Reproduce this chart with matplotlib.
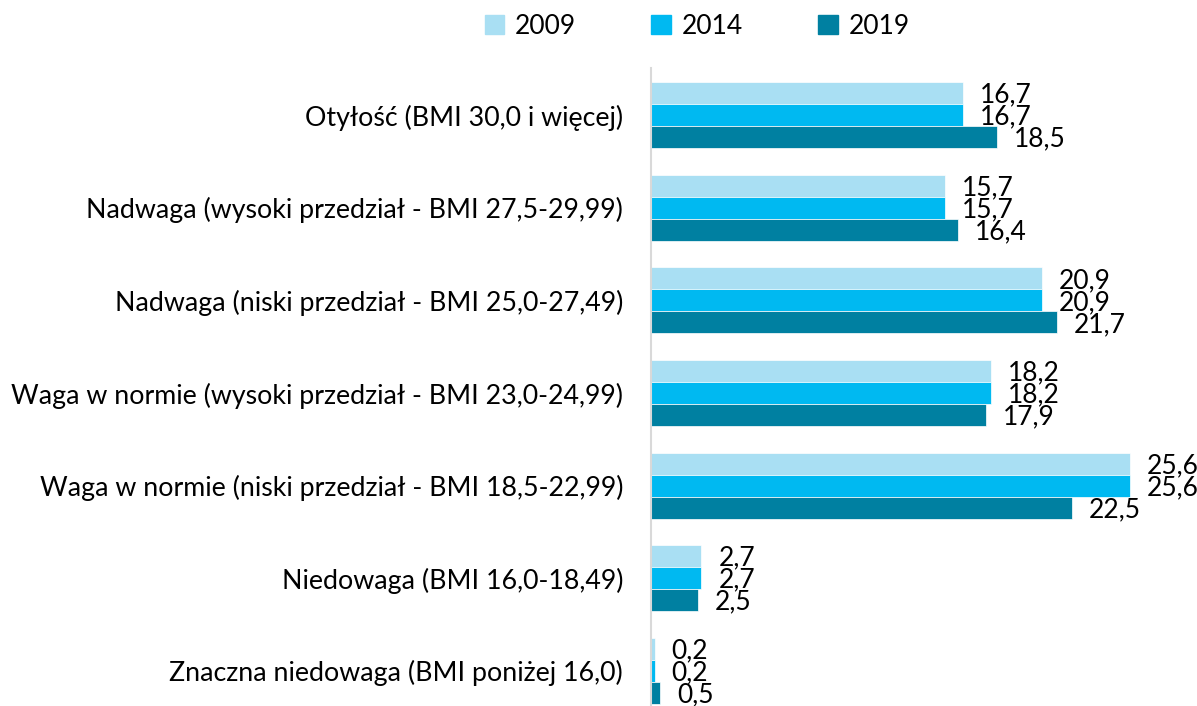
import matplotlib
matplotlib.use("Agg")
import matplotlib.pyplot as plt
import numpy as np

categories = [
    "Otyłość (BMI 30,0 i więcej)",
    "Nadwaga (wysoki przedział - BMI 27,5-29,99)",
    "Nadwaga (niski przedział - BMI 25,0-27,49)",
    "Waga w normie (wysoki przedział - BMI 23,0-24,99)",
    "Waga w normie (niski przedział - BMI 18,5-22,99)",
    "Niedowaga (BMI 16,0-18,49)",
    "Znaczna niedowaga (BMI poniżej 16,0)",
]
years = ["2009", "2014", "2019"]
v2009 = [16.7, 15.7, 20.9, 18.2, 25.6, 2.7, 0.2]
v2014 = [16.7, 15.7, 20.9, 18.2, 25.6, 2.7, 0.2]
v2019 = [18.5, 16.4, 21.7, 17.9, 22.5, 2.5, 0.5]
colors = ["#A9DFF3", "#00B9F1", "#0080A1"]

plt.rcParams['font.family'] = ['Lato', 'DejaVu Sans']

fig = plt.figure(figsize=(11.97, 7.06), dpi=100)
ax = fig.add_axes([651/1197, 0, (1190-651)/1197, (706-68)/706])

y = np.arange(len(categories))
h = 0.238
series = [v2009, v2014, v2019]
for i, (vals, c, lab) in enumerate(zip(series, colors, years)):
    pos = y + (i - 1) * h
    ax.barh(pos, vals, height=h, color=c, label=lab, edgecolor='white', linewidth=0.5)
    for p, v in zip(pos, vals):
        ax.annotate(f"{v:.1f}".replace(".", ","), (v, p), xytext=(17, -2),
                    textcoords="offset pixels",
                    ha="left", va="center", fontsize=19, color="black")

ax.set_xlim(0, (1190-651)/18.7)
ax.set_ylim(6.38, -0.51)
ax.set_yticks(y)
ax.set_yticklabels(categories, fontsize=19.3)
ax.tick_params(axis='y', length=0, pad=20)
ax.set_xticks([])
for s in ["top", "right", "bottom"]:
    ax.spines[s].set_visible(False)
ax.spines["left"].set_color("#D9D9D9")
ax.spines["left"].set_linewidth(1.5)

handles = [plt.Rectangle((0, 0), 1, 1, color=c) for c in colors]
fig.legend(handles, years, loc="center", bbox_to_anchor=(697/1197, 1 - 26/706),
           ncol=3, frameon=False, fontsize=19, handlelength=0.75, handleheight=0.75,
           handletextpad=0.4, columnspacing=2.85)

fig.savefig("out.png", dpi=100)
